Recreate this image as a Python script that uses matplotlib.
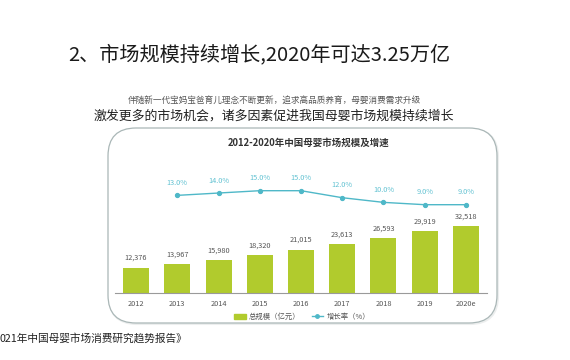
# -*- coding:utf-8 -*-
import matplotlib
matplotlib.use('Agg')
import matplotlib.pyplot as plt
from matplotlib.patches import FancyBboxPatch, Patch
from matplotlib.lines import Line2D

plt.rcParams['font.family'] = ['Noto Sans CJK SC', 'DejaVu Sans']

years = ['2012', '2013', '2014', '2015', '2016', '2017', '2018', '2019', '2020e']
scale = [12376, 13967, 15980, 18320, 21015, 23613, 26593, 29919, 32518]   # 亿元
growth_years = ['2013', '2014', '2015', '2016', '2017', '2018', '2019', '2020e']
growth = [13.0, 14.0, 15.0, 15.0, 12.0, 10.0, 9.0, 9.0]                    # %

bar_color = '#b1cb2d'
line_color = '#4fb8c8'
pct_color = '#62c2d2'

fig = plt.figure(figsize=(5.7, 3.6), dpi=100, facecolor='w')

# background layer in pixel coordinates
bg = fig.add_axes([0, 0, 1, 1])
bg.set_xlim(0, 570)
bg.set_ylim(360, 0)
bg.axis('off')

shadow = FancyBboxPatch((109, 129), 389, 195, boxstyle='round,pad=0,rounding_size=28',
                        facecolor='none', edgecolor='#eceeee', lw=1.5)
bg.add_patch(shadow)
box = FancyBboxPatch((108, 128), 389, 195, boxstyle='round,pad=0,rounding_size=28',
                     facecolor='white', edgecolor='#aab7b7', lw=0.9)
bg.add_patch(box)

bg.text(259, 55, '2、市场规模持续增长,2020年可达3.25万亿', fontsize=14.5,
        color='#1a1a1a', ha='center', va='center')
bg.text(274, 100, '伴随新一代宝妈宝爸育儿理念不断更新，追求高品质养育，母婴消费需求升级',
        fontsize=6.2, color='#555555', ha='center', va='center')
bg.text(274, 116, '激发更多的市场机会，诸多因素促进我国母婴市场规模持续增长',
        fontsize=9.3, color='#222222', ha='center', va='center')
bg.text(309, 143, '2012-2020年中国母婴市场规模及增速', fontsize=6.8,
        color='#333333', ha='center', va='center', fontweight='bold')
bg.text(0, 338, '021年中国母婴市场消费研究趋势报告》', fontsize=7.7,
        color='#222222', ha='left', va='center')

# chart area: baseline at y=293px, top at y=160px
W, H = 570.0, 360.0
left, right = 115.4, 486.6
bottom, top = 293.0, 160.0
ax = fig.add_axes([left / W, (H - bottom) / H, (right - left) / W, (bottom - top) / H])
ax.patch.set_alpha(0)
x = list(range(len(years)))
ax.bar(x, scale, width=0.63, color=bar_color, zorder=2)
ax.set_xlim(-0.5, len(years) - 0.5)
ax.set_ylim(0, 32518 * 133 / 67.0)
for i, v in enumerate(scale):
    ax.annotate('{:,}'.format(v), (i, v), xytext=(0, 4), textcoords='offset points',
                ha='center', va='bottom', fontsize=5.3, color='#555555')
ax.set_xticks(x)
ax.set_xticklabels(years, fontsize=5.3, color='#555555')
ax.tick_params(axis='x', length=0, pad=5)
ax.set_yticks([])
for s in ['top', 'right', 'left']:
    ax.spines[s].set_visible(False)
ax.spines['bottom'].set_color('#9a9a9a')
ax.spines['bottom'].set_linewidth(0.8)

ax2 = ax.twinx()
gx = [years.index(y) for y in growth_years]
ax2.plot(gx, growth, color=line_color, lw=1.0, marker='o', ms=2.8, zorder=3)
ax2.set_ylim(9 - 88.3 / 2.333, 9 + (133 - 88.3) / 2.333)
for i, v in zip(gx, growth):
    ax2.annotate('%.1f%%' % v, (i, v), xytext=(0, 6), textcoords='offset points',
                 ha='center', va='bottom', fontsize=5.3, color=pct_color)
ax2.axis('off')

handles = [Patch(color=bar_color, label='总规模（亿元）'),
           Line2D([], [], color=line_color, lw=1.0, marker='o', ms=2.5, label='增长率（%）')]
bg.legend(handles=handles, loc='center', bbox_to_anchor=(302 / W, 1 - 317 / H),
          bbox_transform=fig.transFigure, ncol=2, frameon=False, fontsize=5.3,
          handlelength=1.6, handleheight=0.8, columnspacing=1.5, handletextpad=0.4,
          labelcolor='#555555')

fig.savefig('out.png', dpi=100, facecolor='w')
